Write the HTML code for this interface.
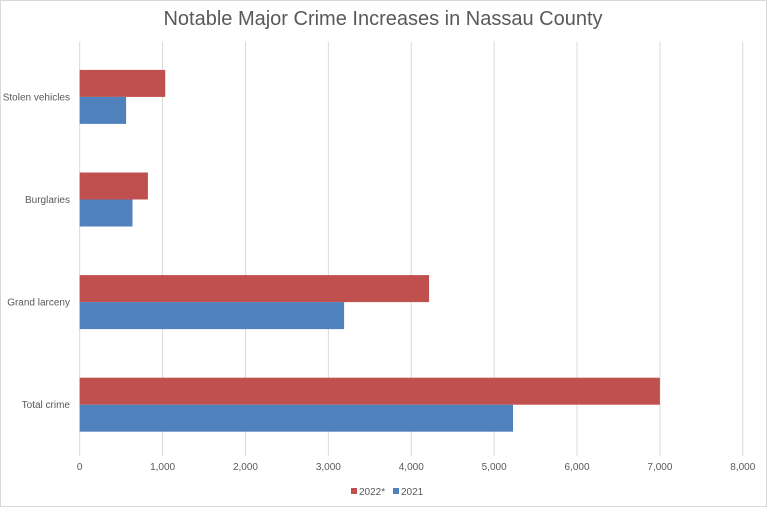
<!DOCTYPE html>
<html><head><meta charset="utf-8"><style>
body{margin:0;background:#fff;font-family:"Liberation Sans",sans-serif}
#wrap{position:relative;width:767px;height:507px;border:1px solid #d9d9d9;box-sizing:border-box}
</style></head><body>
<div id="wrap">
<svg id="chart" width="767" height="507" style="position:absolute;left:-1px;top:-1px">
<text x="383" y="25" text-anchor="middle" font-size="20" fill="#595959" font-family="Liberation Sans, sans-serif">Notable Major Crime Increases in Nassau County</text>
</svg>
</div>
<script>
const categories=["Stolen vehicles","Burglaries","Grand larceny","Total crime"];
const values2022=[1032,823,4215,7000];
const values2021=[560,637,3190,5228];
const tickValues=[0,1000,2000,3000,4000,5000,6000,7000,8000];
const tickLabels=["0","1,000","2,000","3,000","4,000","5,000","6,000","7,000","8,000"];
const svgEl=document.getElementById('chart');
const NS='http://www.w3.org/2000/svg';
const xLeft=79.7,xRight=742.8,xMax=8000,plotTop=45.6,plotBottom=456;
const xs=v=>xLeft+(xRight-xLeft)*v/xMax;
const bandH=(plotBottom-plotTop)/categories.length;
const cy=i=>plotTop+bandH*(i+0.5);
const barH=27;
function mk(t,a){const e=document.createElementNS(NS,t);for(const k in a)e.setAttribute(k,a[k]);svgEl.appendChild(e);return e;}
tickValues.forEach((v,i)=>{
 const g=mk('line',{x1:xs(v),x2:xs(v),y1:plotTop-4,y2:plotBottom,stroke:'#d9d9d9','stroke-width':1});
 
 
 const t=mk('text',{x:xs(v),y:470,'text-anchor':'middle','font-size':10,fill:'#595959'});
 t.textContent=tickLabels[i];
 
 
});
categories.forEach((c,i)=>{
 const y=cy(i);
 const r1=mk('rect',{x:xs(0),y:y-barH,width:xs(values2022[i])-xs(0),height:barH,fill:'#c0504d'});
 
 
 const r2=mk('rect',{x:xs(0),y:y,width:xs(values2021[i])-xs(0),height:barH,fill:'#4f81bd'});
 
 
 const t=mk('text',{x:70,y:y+3.5,'text-anchor':'end','font-size':10,fill:'#595959'});
 t.textContent=c;
 
 
});
const legendLabels=["2022*","2021"];
const legendColors=["#c0504d","#4f81bd"];
const legendX=[351,393];
legendLabels.forEach((lab,i)=>{
 const r=mk('rect',{x:legendX[i],y:488,width:6,height:6,fill:legendColors[i]});
 
 
 const t=mk('text',{x:legendX[i]+8,y:495,'font-size':10,fill:'#595959'});
 t.textContent=lab;
 
 
});
</script>
</body></html>
